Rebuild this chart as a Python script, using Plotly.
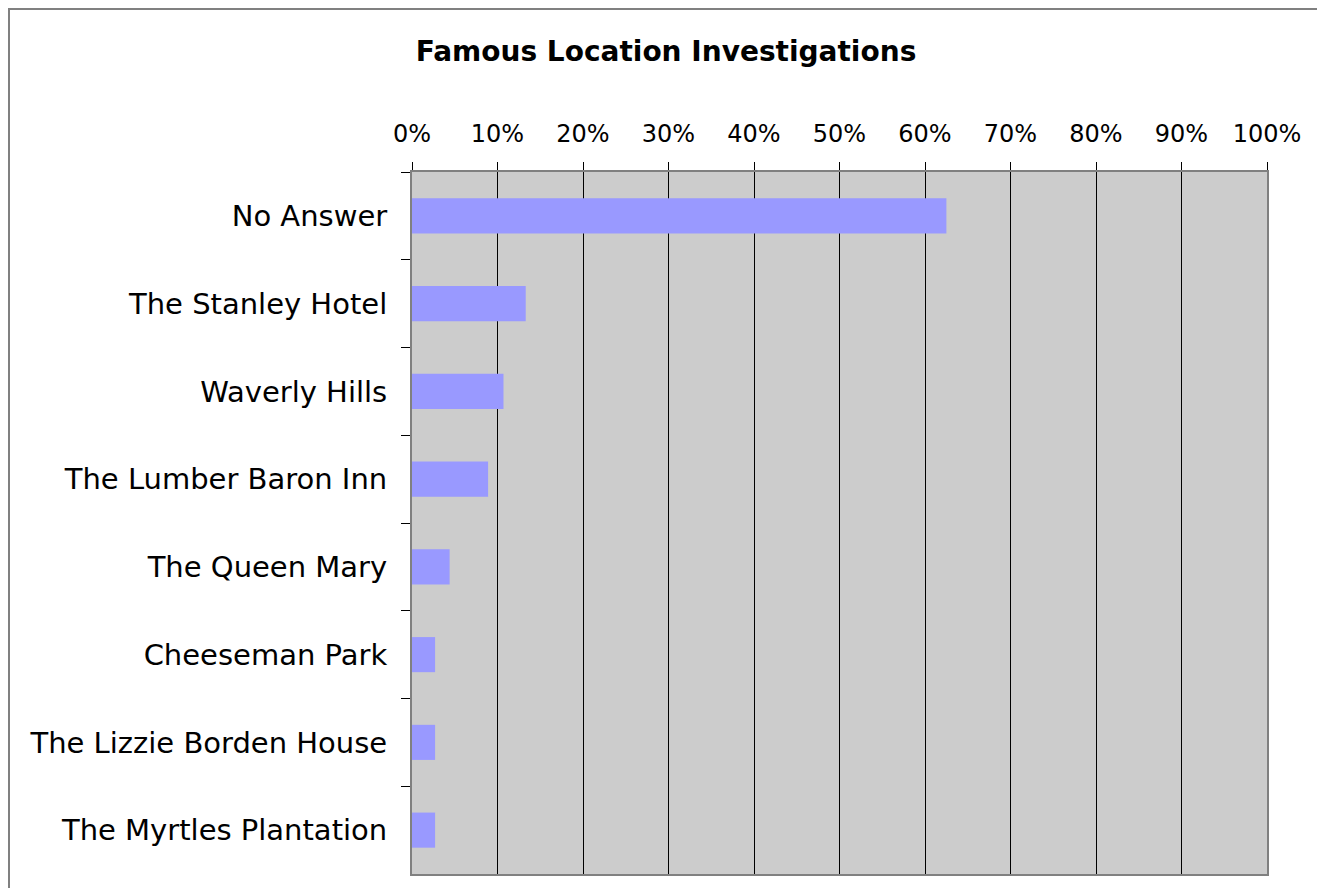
import plotly.graph_objects as go

categories = ["No Answer", "The Stanley Hotel", "Waverly Hills", "The Lumber Baron Inn",
              "The Queen Mary", "Cheeseman Park", "The Lizzie Borden House", "The Myrtles Plantation"]
values = [62.5, 13.3, 10.7, 8.9, 4.4, 2.7, 2.7, 2.7]
tick_vals = [0, 10, 20, 30, 40, 50, 60, 70, 80, 90, 100]
tick_text = [f"{v}%" for v in tick_vals]

FONT = "DejaVu Sans"
L, R, T, B = 404, 66, 164, 22
W, H = 1325, 888
PW, PH = W - L - R, H - T - B

fig = go.Figure(go.Bar(
    x=values, y=categories, orientation="h",
    marker=dict(color="#9999FF", line=dict(width=0)),
    width=0.4,
))

fig.update_layout(
    width=W, height=H,
    margin=dict(l=L, r=R, t=T, b=B),
    paper_bgcolor="white", plot_bgcolor="#CCCCCC",
    showlegend=False,
    title=dict(text="<b>Famous Location Investigations</b>", x=658 / W, xanchor="center",
               y=1 - 43 / H, yanchor="middle", yref="container",
               font=dict(family=FONT, size=28, color="black")),
    font=dict(family=FONT, color="black"),
)

fig.update_xaxes(
    side="top", range=[0, 100], tickvals=tick_vals, ticktext=tick_text,
    showgrid=True, gridcolor="black", gridwidth=1,
    ticks="outside", ticklen=8, tickcolor="black", tickwidth=1,
    showline=True, linecolor="#808080", linewidth=2, mirror=True,
    tickfont=dict(family=FONT, size=24, color="black"),
    ticklabelstandoff=10, zeroline=False,
)
fig.update_yaxes(
    categoryorder="array", categoryarray=categories, autorange="reversed",
    ticks="outside", ticklen=9, tickcolor="black", tickwidth=1, tickson="boundaries",
    showline=True, linecolor="#808080", linewidth=2, mirror=True,
    showgrid=False,
    tickfont=dict(family=FONT, size=29, color="black"),
    ticklabelstandoff=17,
)

# outer chart frame
fig.add_shape(type="rect", xref="paper", yref="paper",
              x0=(1 - L) / PW, x1=(1315 - L) / PW,
              y0=-1, y1=1 + (T - 1) / PH,
              line=dict(color="#808080", width=2), fillcolor="rgba(0,0,0,0)", layer="below")

fig.write_html("out.html")
